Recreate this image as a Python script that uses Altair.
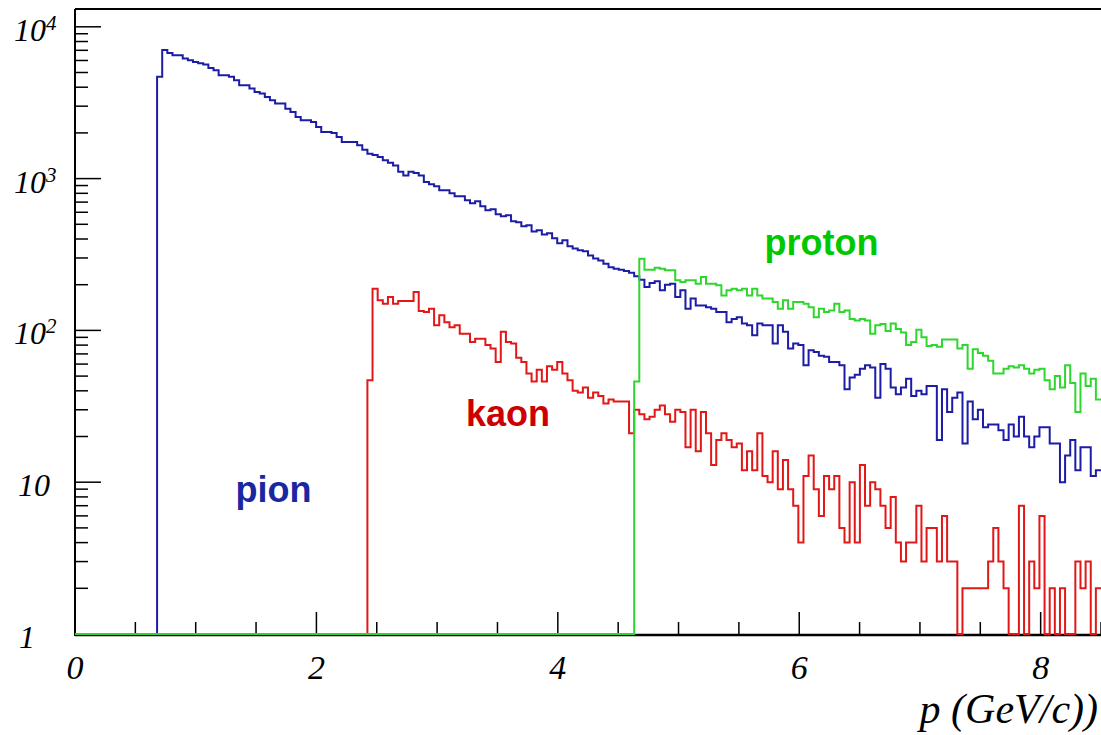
import altair as alt
import numpy as np
import pandas as pd

# Histogram binning: 200 bins on 0 - 8.5 GeV/c
N_BINS = 200
P_MIN, P_MAX = 0.0, 8.5
BIN_W = (P_MAX - P_MIN) / N_BINS
Y_MIN, Y_MAX = 1.0, 13100.0

# Counts per bin, listed from the first non-empty bin of each species
PION_FIRST_BIN = 16
PION_COUNTS = [
    4680, 7030, 6730, 6500, 6500, 6180, 6030, 5870, 5750, 5650,
    5360, 5180, 4800, 4800, 4680, 4450, 4120, 4120, 3920, 3720,
    3630, 3450, 3280, 3120, 3120, 2890, 2750, 2550, 2420, 2420,
    2360, 2190, 2030, 2030, 2000, 1880, 1740, 1740, 1740, 1660,
    1550, 1460, 1430, 1390, 1320, 1270, 1220, 1110, 1050, 1110,
    1090, 1050, 950, 917, 890, 837, 837, 800, 764, 764,
    719, 688, 709, 657, 618, 628, 582, 564, 573, 523,
    515, 485, 492, 449, 456, 429, 436, 404, 375, 392,
    358, 347, 337, 332, 312, 298, 289, 275, 261, 255,
    251, 246, 240, 227, 216, 193, 205, 211, 184, 200,
    203, 166, 184, 139, 162, 146, 146, 142, 139, 132,
    132, 113, 119, 122, 111, 108, 93, 111, 108, 108,
    82, 108, 98, 76, 82, 80, 59, 74, 72, 68,
    67, 62, 62, 59, 41, 49, 51, 56, 59, 57,
    36, 60, 56, 42, 38, 42, 48, 37, 40, 38,
    43, 43, 19, 41, 29, 36, 39, 18, 34, 26,
    30, 23, 24, 24, 22, 19, 24, 20, 27, 20,
    17, 20, 23, 23, 18, 18, 10, 15, 19, 12,
    17, 17, 11, 12,
]

KAON_FIRST_BIN = 57
KAON_COUNTS = [
    47, 188, 158, 150, 166, 150, 156, 156, 156, 179,
    134, 132, 139, 108, 126, 113, 105, 108, 95, 95,
    84, 88, 88, 80, 76, 62, 98, 84, 82, 66,
    62, 52, 46, 55, 46, 58, 55, 62, 52, 47,
    40, 39, 42, 36, 39, 37, 33, 35, 34, 34,
    34, 21, 30, 28, 26, 27, 30, 32, 28, 25,
    30, 29, 17, 30, 16, 29, 21, 13, 19, 21,
    19, 17, 18, 12, 16, 12, 21, 11, 10, 16,
    9, 14, 9, 7, 4, 11, 15, 9, 6, 11,
    9, 11, 5, 4, 10, 4, 13, 7, 10, 9,
    7, 5, 8, 4, 3, 4, 4, 7, 3, 5,
    5, 3, 6, 3, 3, 0, 2, 2, 2, 2,
    2, 3, 5, 3, 2, 0, 0, 7, 0, 3,
    2, 6, 0, 2, 0, 2, 0, 0, 3, 2,
    3, 0, 2,
]

PROTON_FIRST_BIN = 109
PROTON_COUNTS = [
    46, 297, 251, 251, 259, 255, 249, 249, 214, 208,
    214, 214, 203, 225, 203, 203, 198, 170, 184, 188,
    184, 188, 170, 188, 170, 162, 162, 154, 139, 158,
    139, 154, 154, 150, 142, 122, 139, 132, 135, 150,
    132, 135, 119, 116, 119, 116, 95, 108, 110, 99,
    111, 102, 97, 80, 84, 101, 90, 79, 80, 78,
    87, 87, 87, 76, 80, 56, 75, 71, 68, 63,
    52, 52, 56, 58, 57, 59, 56, 52, 55, 56,
    47, 41, 50, 42, 59, 45, 29, 52, 43, 48,
    35,
]

# Axis ticks and labels
X_MAJOR = [0, 2, 4, 6, 8]
X_MINOR = [0.5, 1, 1.5, 2.5, 3, 3.5, 4.5, 5, 5.5, 6.5, 7, 7.5, 8.5]
Y_MAJOR = [1, 10, 100, 1000, 10000]
Y_MINOR = [k * 10 ** d for d in range(4) for k in range(2, 10)]
Y_POW_VALUES = [100, 1000, 10000]
Y_POW_EXP = ["2", "3", "4"]

# Species labels: name, momentum, count at the text baseline
LABEL_NAMES = ["pion", "kaon", "proton"]
LABEL_P = [1.645, 3.587, 6.185]
LABEL_N = [7.46, 23.3, 312.0]

W, H = 1026, 625
FONT_SERIF = "Liberation Serif"
FONT_SANS = "Liberation Sans"


def outline(first_bin, counts):
    full = np.zeros(N_BINS)
    counts = np.asarray(counts, dtype=float)[: N_BINS - first_bin]
    full[first_bin:first_bin + len(counts)] = counts
    edges = P_MIN + BIN_W * np.arange(N_BINS + 1)
    n = np.append(full, full[-1])
    # empty bins sit on the floor of the log axis
    n = np.clip(n, Y_MIN, None)
    return pd.DataFrame({"p": edges, "n": n, "i": np.arange(N_BINS + 1)})


xs = alt.Scale(domain=[P_MIN, P_MAX], nice=False, zero=False)
ys = alt.Scale(type="log", domain=[Y_MIN, Y_MAX], nice=False)


def hist(df, color):
    return alt.Chart(df).mark_line(
        interpolate="step-after", color=color, strokeWidth=2
    ).encode(
        x=alt.X("p:Q", scale=xs, axis=None),
        y=alt.Y("n:Q", scale=ys, axis=None),
        order="i:Q",
    )


pion = hist(outline(PION_FIRST_BIN, PION_COUNTS), "#1c1ca6")
kaon = hist(outline(KAON_FIRST_BIN, KAON_COUNTS), "#e21818")
proton = hist(outline(PROTON_FIRST_BIN, PROTON_COUNTS), "#2fd62f")

one = pd.DataFrame({"z": [0]})
frame_top = alt.Chart(one).mark_rule(color="black", strokeWidth=2).encode(
    x=alt.value(0), x2=alt.value(W), y=alt.value(0))
frame_left = alt.Chart(one).mark_rule(color="black", strokeWidth=2).encode(
    x=alt.value(0), y=alt.value(0), y2=alt.value(H + 2))
frame_bottom = alt.Chart(one).mark_rule(color="black", strokeWidth=2.5).encode(
    x=alt.value(0), x2=alt.value(W), y=alt.value(H + 1))


def yticks(values, length):
    return alt.Chart(pd.DataFrame({"v": values})).mark_rule(
        color="black", strokeWidth=1.5).encode(
        y=alt.Y("v:Q", scale=ys, axis=None), x=alt.value(0), x2=alt.value(length))


def xticks(values, length):
    return alt.Chart(pd.DataFrame({"v": values})).mark_rule(
        color="black", strokeWidth=1.5).encode(
        x=alt.X("v:Q", scale=xs, axis=None), y=alt.value(H), y2=alt.value(H - length))


ytick_major = yticks(Y_MAJOR, 26)
ytick_minor = yticks(Y_MINOR, 13)
xtick_major = xticks(X_MAJOR, 22)
xtick_minor = xticks(X_MINOR, 12)

serif = dict(font=FONT_SERIF, fontStyle="italic", color="black")

ylab_pow_base = alt.Chart(pd.DataFrame({"v": Y_POW_VALUES})).mark_text(
    align="right", baseline="alphabetic", dy=14, fontSize=32, **serif).encode(
    y=alt.Y("v:Q", scale=ys, axis=None), x=alt.value(-29), text=alt.value("10"))
ylab_pow_exp = alt.Chart(pd.DataFrame({"v": Y_POW_VALUES, "e": Y_POW_EXP})).mark_text(
    align="left", baseline="alphabetic", dy=3, fontSize=21, **serif).encode(
    y=alt.Y("v:Q", scale=ys, axis=None), x=alt.value(-29), text="e:N")
ylab_ten = alt.Chart(pd.DataFrame({"v": [10]})).mark_text(
    align="right", baseline="alphabetic", dy=14, fontSize=32, **serif).encode(
    y=alt.Y("v:Q", scale=ys, axis=None), x=alt.value(-25), text=alt.value("10"))
ylab_one = alt.Chart(pd.DataFrame({"v": [1]})).mark_text(
    align="right", baseline="alphabetic", dy=14, fontSize=32, **serif).encode(
    y=alt.Y("v:Q", scale=ys, axis=None), x=alt.value(-40), text=alt.value("1"))

xlab = alt.Chart(pd.DataFrame({"v": X_MAJOR, "t": [str(v) for v in X_MAJOR]})).mark_text(
    align="center", baseline="alphabetic", fontSize=34, **serif).encode(
    x=alt.X("v:Q", scale=xs, axis=None), y=alt.value(H + 45), text="t:N")
xtitle = alt.Chart(one).mark_text(
    align="right", baseline="alphabetic", fontSize=42, **serif).encode(
    x=alt.value(W - 3), y=alt.value(H + 89), text=alt.value("p (GeV/c))"))

labels_df = pd.DataFrame({"name": LABEL_NAMES, "p": LABEL_P, "n": LABEL_N})
label_colors = {"pion": "#1a27a3", "kaon": "#cc0000", "proton": "#00c800"}
species_labels = [
    alt.Chart(labels_df[labels_df.name == nm]).mark_text(
        align="center", baseline="alphabetic", font=FONT_SANS, fontWeight="bold",
        fontSize=36, color=col).encode(
        x=alt.X("p:Q", scale=xs, axis=None), y=alt.Y("n:Q", scale=ys, axis=None),
        text="name:N")
    for nm, col in label_colors.items()
]

chart = alt.layer(
    ytick_minor, ytick_major, xtick_minor, xtick_major,
    frame_top, frame_left, frame_bottom,
    pion, kaon, proton,
    ylab_pow_base, ylab_pow_exp, ylab_ten, ylab_one, xlab, xtitle,
    *species_labels,
).properties(
    width=W, height=H,
    autosize=alt.AutoSizeParams(type="none"),
    padding={"left": 75, "top": 9, "right": 0, "bottom": 101},
).configure_view(stroke=None).configure(background="white")

chart.save("out.html", embed_options={"renderer": "svg", "actions": False})
